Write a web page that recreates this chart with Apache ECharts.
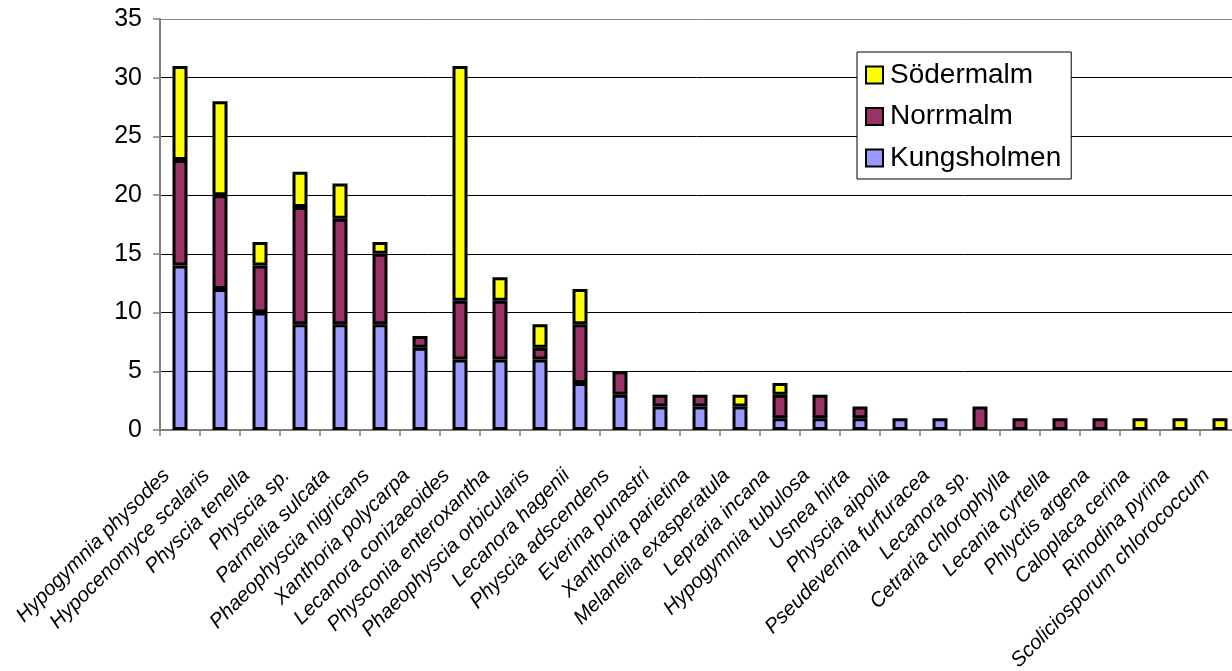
<!DOCTYPE html>
<html>
<head>
<meta charset="utf-8">
<title>Lavar per stadsdel</title>
<script src="https://cdn.jsdelivr.net/npm/echarts@6/dist/echarts.min.js"></script>
<style>
  html, body { margin: 0; padding: 0; background: #fff; }
  #chart { width: 1232px; height: 671px; }
</style>
</head>
<body>
<div id="chart"></div>
<script>
// Lichen species, in order of total number of finds
const species = [
  'Hypogymnia physodes', 'Hypocenomyce scalaris', 'Physcia tenella', 'Physcia sp.',
  'Parmelia sulcata', 'Phaeophyscia nigricans', 'Xanthoria polycarpa', 'Lecanora conizaeoides',
  'Physconia enteroxantha', 'Phaeophyscia orbicularis', 'Lecanora hagenii', 'Physcia adscendens',
  'Everina punastri', 'Xanthoria parietina', 'Melanelia exasperatula', 'Lepraria incana',
  'Hypogymnia tubulosa', 'Usnea hirta', 'Physcia aipolia', 'Pseudevernia furfuracea',
  'Lecanora sp.', 'Cetraria chlorophylla', 'Lecania cyrtella', 'Phlyctis argena',
  'Caloplaca cerina', 'Rinodina pyrina', 'Scoliciosporum chlorococcum'
];

// Finds per district
const kungsholmen = [14, 12, 10, 9, 9, 9, 7, 6, 6, 6, 4, 3, 2, 2, 2, 1, 1, 1, 1, 1, 0, 0, 0, 0, 0, 0, 0];
const norrmalm    = [ 9,  8,  4, 10, 9, 6, 1, 5, 5, 1, 5, 2, 1, 1, 0, 2, 2, 1, 0, 0, 2, 1, 1, 1, 0, 0, 0];
const sodermalm   = [ 8,  8,  2, 3, 3, 1, 0, 20, 2, 2, 3, 0, 0, 0, 1, 1, 0, 0, 0, 0, 0, 0, 0, 0, 1, 1, 1];

// Value axis ticks
const yTicks = [0, 5, 10, 15, 20, 25, 30, 35];

const FONT = '"Liberation Sans", Arial, Helvetica, sans-serif';

// Empty segments are left out so they don't draw a border line
const seg = arr => arr.map(v => (v === 0 ? null : v));

function barSeries(name, data, color) {
  return {
    name: name,
    type: 'bar',
    stack: 'total',
    barWidth: 15,
    data: seg(data),
    itemStyle: { color: color, borderColor: '#000', borderWidth: 3 },
    emphasis: { disabled: true }
  };
}

const chart = echarts.init(document.getElementById('chart'), null, { renderer: 'canvas' });

chart.setOption({
  animation: false,
  backgroundColor: '#fff',
  textStyle: { fontFamily: FONT, color: '#000' },
  grid: { left: 160, right: -8, top: 19, bottom: 241, containLabel: false, outerBoundsMode: 'none' },
  legend: {
    orient: 'vertical',
    left: 857,
    top: 52,
    data: ['Södermalm', 'Norrmalm', 'Kungsholmen'],
    icon: 'rect',
    itemWidth: 17,
    itemHeight: 17,
    itemGap: 13.5,
    padding: [9, 10, 7, 8],
    borderColor: '#000',
    borderWidth: 1,
    backgroundColor: '#fff',
    itemStyle: { borderColor: '#000', borderWidth: 2 },
    textStyle: { fontFamily: FONT, fontSize: 28, color: '#000', lineHeight: 28, padding: [0, 0, 0, 2] }
  },
  xAxis: {
    type: 'category',
    data: species,
    boundaryGap: true,
    axisLine: { lineStyle: { color: '#808080', width: 2 } },
    axisTick: { show: true, interval: 0, length: 6, lineStyle: { color: '#808080', width: 1.5 } },
    axisLabel: {
      interval: 0,
      rotate: 45,
      margin: 29,
      padding: [0, 19, 0, 0],
      fontStyle: 'italic',
      fontSize: 20.5,
      fontFamily: FONT,
      color: '#000'
    },
    splitLine: { show: false }
  },
  yAxis: {
    type: 'value',
    min: yTicks[0],
    max: yTicks[yTicks.length - 1],
    interval: yTicks[1] - yTicks[0],
    axisLine: { show: true, lineStyle: { color: '#808080', width: 2 } },
    axisTick: { show: true, inside: false, length: 7, lineStyle: { color: '#808080', width: 1.5 } },
    axisLabel: { margin: 18, fontSize: 25, fontFamily: FONT, color: '#000' },
    splitLine: {
      show: true,
      lineStyle: { color: ['#000', '#000', '#000', '#000', '#000', '#000', '#000', '#888'], width: 1 }
    }
  },
  series: [
    barSeries('Kungsholmen', kungsholmen, '#9999FF'),
    barSeries('Norrmalm', norrmalm, '#993366'),
    barSeries('Södermalm', sodermalm, '#FFFF00')
  ]
});
</script>
</body>
</html>
